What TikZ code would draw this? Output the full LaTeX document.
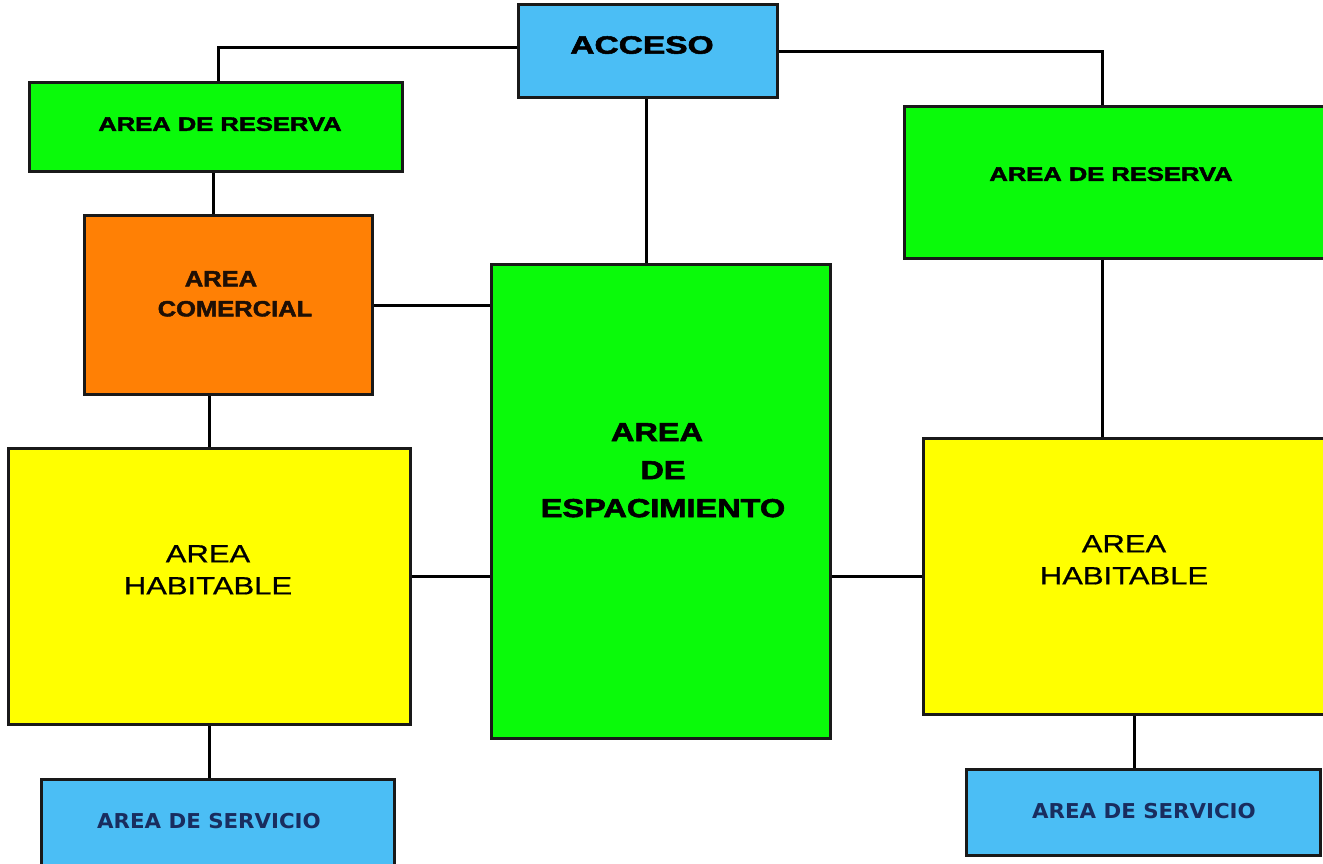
\documentclass[tikz,border=0pt]{standalone}
\usepackage{fontspec}
\usepackage{graphicx}
\setmainfont{Liberation Sans}
\newfontfamily\heavyfont{Liberation Sans}[BoldFeatures={FakeBold=2}]
\newfontfamily\midfont{Liberation Sans}[UprightFeatures={FakeBold=0.6}]
\newfontfamily\servfont{DejaVu Sans}
\usetikzlibrary{calc}
\newcommand\hsx[2]{\scalebox{#1}[1]{#2}}
\definecolor{cblue}{RGB}{75,190,245}
\definecolor{cgreen}{RGB}{10,250,10}
\definecolor{corange}{RGB}{255,128,5}
\definecolor{cyellow}{RGB}{255,255,0}
\definecolor{cline}{RGB}{25,25,25}
\definecolor{cnavy}{RGB}{25,45,95}
\begin{document}
\begin{tikzpicture}[x=1pt,y=-1pt,
  box/.style={draw=cline, line width=3pt, inner sep=0pt, anchor=north west},
  conn/.style={draw=black, line width=3pt},
  txt/.style={inner sep=0pt, anchor=north, align=center, text=black}]
\useasboundingbox (0,0) rectangle (1323,863);
\clip (0,0) rectangle (1323,863);
\fill[white] (0,0) rectangle (1323,863);
% boxes
\node[box, fill=cblue,   minimum width=259pt, minimum height=93pt]  (acceso) at (517,3) {};
\node[box, fill=cgreen,  minimum width=373pt, minimum height=89pt]  (resL)   at (28,81) {};
\node[box, fill=corange, minimum width=288pt, minimum height=179pt] (com)    at (83,214) {};
\node[box, fill=cgreen,  minimum width=339pt, minimum height=474pt] (esp)    at (490,263) {};
\node[box, fill=cgreen,  minimum width=430pt, minimum height=152pt] (resR)   at (903,105) {};
\node[box, fill=cyellow, minimum width=402pt, minimum height=276pt] (habL)   at (7,447) {};
\node[box, fill=cyellow, minimum width=410pt, minimum height=276pt] (habR)   at (922,437) {};
\node[box, fill=cblue,   minimum width=353pt, minimum height=100pt] (serL)   at (40,778) {};
\node[box, fill=cblue,   minimum width=354pt, minimum height=86pt]  (serR)   at (965,768) {};
\coordinate (rtrunk) at ($(resR.north west)+(199,0)$);
% connectors
\draw[conn] ([yshift=3.5pt]acceso.west) -| ([xshift=2.5pt]resL.north);
\draw[conn] (acceso.east) -| (rtrunk);
\draw[conn] ([xshift=-2pt]acceso.south) -- ([xshift=-2pt]acceso.south |- esp.north);
\draw[conn] ([xshift=-2.5pt]resL.south) -- ([xshift=-2.5pt]resL.south |- com.north);
\draw[conn] (com.east) -- (com.east -| esp.west);
\draw[conn] (habL.north) -- (habL.north |- com.south);
\draw[conn] (habL.east |- habR.west) -- (esp.west |- habR.west);
\draw[conn] (esp.east |- habR.west) -- (habR.west);
\draw[conn] (rtrunk |- resR.south) -- (rtrunk |- habR.north);
\draw[conn] (habL.south) -- (habL.south |- serL.north);
\draw[conn] ([xshift=6pt]habR.south) -- ([xshift=6pt]habR.south |- serR.north);
% texts
\node[txt, font=\heavyfont\bfseries\fontsize{25}{30}\selectfont] (tAcceso) at (642,36) {\hsx{1.34}{ACCESO}};
\node[txt, font=\heavyfont\bfseries\fontsize{19.5}{24}\selectfont] (tResL) at (220,117) {\hsx{1.31}{AREA DE RESERVA}};
\node[txt, font=\heavyfont\bfseries\fontsize{19.5}{24}\selectfont] (tResR) at (1111,167) {\hsx{1.31}{AREA DE RESERVA}};
\node[txt, text={rgb,255:red,30;green,15;blue,5}, font=\heavyfont\bfseries\fontsize{22}{30}\selectfont] (tCom) at (235,271) {\hsx{1.16}{AREA}\hspace*{28pt}\\\hsx{1.16}{COMERCIAL}};
\node[txt, font=\heavyfont\bfseries\fontsize{26}{38}\selectfont] (tEsp) at (663,423) {\hsx{1.25}{AREA}\hspace*{12pt}\\\hsx{1.25}{DE}\hspace*{20pt}\\\hsx{1.25}{ESPACIMIENTO}};
\node[txt, font=\midfont\fontsize{25}{32}\selectfont] (tHabL) at (208,545) {\hsx{1.24}{AREA}\\\hsx{1.24}{HABITABLE}};
\node[txt, font=\midfont\fontsize{25}{32}\selectfont] (tHabR) at (1124,535) {\hsx{1.24}{AREA}\\\hsx{1.24}{HABITABLE}};
\node[txt, text=cnavy, font=\servfont\bfseries\fontsize{20.5}{24}\selectfont] (tSerL) at (209,813) {\hsx{1.04}{AREA DE SERVICIO}};
\node[txt, text=cnavy, font=\servfont\bfseries\fontsize{20.5}{24}\selectfont] (tSerR) at (1144,803) {\hsx{1.04}{AREA DE SERVICIO}};
\end{tikzpicture}
\end{document}
